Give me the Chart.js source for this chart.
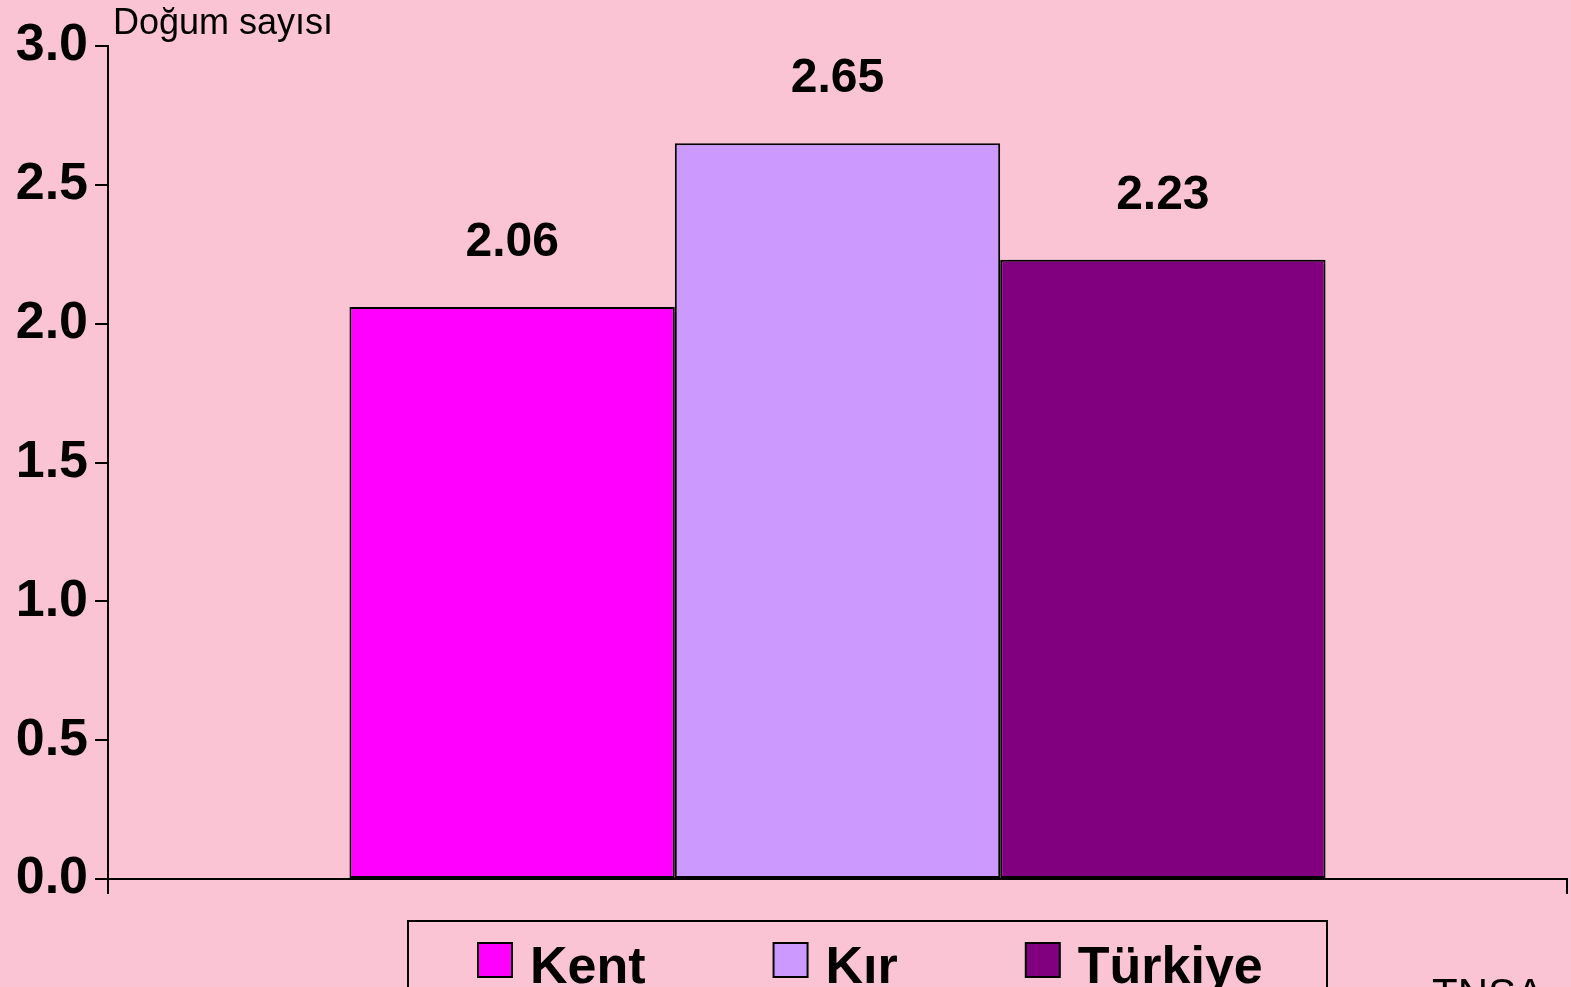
<!DOCTYPE html>
<html>
<head>
<meta charset="utf-8">
<title>Doğum sayısı</title>
<script src="https://cdn.jsdelivr.net/npm/chart.js@4/dist/chart.umd.min.js"></script>
<style>
  html, body { margin: 0; padding: 0; overflow: hidden; }
  body { background: #fac4d4; width: 1571px; height: 987px; }
  canvas { display: block; }
</style>
</head>
<body>
<canvas id="graph-canvas" width="1571" height="987"></canvas>
<script>
// veriler
var categories = [''];
var seriesNames = ['Kent', 'Kır', 'Türkiye'];
var seriesValues = [2.06, 2.65, 2.23];
var seriesColors = ['#ff00ff', '#cc99ff', '#800080'];
var yMin = 0, yMax = 3, yStep = 0.5;
var axisTitle = 'Doğum sayısı';
var sourceText = 'TNSA';

var FONT = 'Arial, "Liberation Sans", sans-serif';

var datasets = [];
for (var i in seriesNames) {
	datasets.push({
		label: seriesNames[i],
		data: [seriesValues[i]],
		backgroundColor: seriesColors[i],
		borderColor: '#000',
		borderWidth: 2,
		borderSkipped: false,
		barPercentage: 1.0,
		categoryPercentage: 0.669
	});
}

// degerleri cubuklarin ustune yaz
var valueLabels = {
	id: 'valueLabels',
	afterDatasetsDraw: function(chart) {
		var ctx = chart.ctx;
		ctx.save();
		ctx.fillStyle = '#000';
		ctx.font = 'bold 48px ' + FONT;
		ctx.textAlign = 'center';
		ctx.textBaseline = 'middle';
		chart.data.datasets.forEach(function(ds, i) {
			var bar = chart.getDatasetMeta(i).data[0];
			ctx.fillText(ds.data[0].toFixed(2), bar.x, bar.y - 64);
		});
		ctx.restore();
	}
};

// eksen basligi, kaynak ve kutulu lejant
var extras = {
	id: 'extras',
	afterDraw: function(chart) {
		var ctx = chart.ctx;
		ctx.save();
		ctx.fillStyle = '#000';
		ctx.textAlign = 'left';
		ctx.textBaseline = 'alphabetic';
		ctx.font = '36px ' + FONT;
		ctx.fillText(axisTitle, 113, 34);

		ctx.font = '42px ' + FONT;
		ctx.fillText(sourceText, 1432, 1008);

		// lejant kutusu
		ctx.strokeStyle = '#000';
		ctx.lineWidth = 2;
		ctx.strokeRect(408, 921, 919, 80);

		ctx.font = 'bold 52px ' + FONT;
		var x = 478;
		chart.data.datasets.forEach(function(ds) {
			ctx.fillStyle = ds.backgroundColor;
			ctx.fillRect(x, 943, 34, 34);
			ctx.strokeRect(x, 943, 34, 34);
			ctx.fillStyle = '#000';
			ctx.fillText(ds.label, x + 52, 983);
			x += 52 + ctx.measureText(ds.label).width + 128;
		});
		ctx.restore();
	}
};

var ctx = document.getElementById('graph-canvas');
var barGraph = new Chart(ctx, {
	type: 'bar',
	data: {
		labels: categories,
		datasets: datasets
	},
	options: {
		responsive: false,
		devicePixelRatio: 1,
		animation: false,
		layout: { padding: { top: 46, right: 4, left: 0, bottom: 0 } },
		plugins: {
			legend: { display: false },
			tooltip: { enabled: false }
		},
		scales: {
			x: {
				afterFit: function(scale) { scale.height = 108; },
				ticks: { display: false },
				grid: {
					offset: true,
					drawOnChartArea: false,
					drawTicks: true,
					tickLength: 15,
					color: '#000',
					lineWidth: 2
				},
				border: { display: true, color: '#000', width: 2 }
			},
			y: {
				min: yMin,
				max: yMax,
				afterFit: function(scale) { scale.width = 108; },
				ticks: {
					stepSize: yStep,
					color: '#000',
					padding: 7,
					font: { family: FONT, size: 52, weight: 'bold' },
					callback: function(v) { return v.toFixed(1); }
				},
				grid: {
					drawOnChartArea: false,
					drawTicks: true,
					tickLength: 13,
					color: '#000',
					lineWidth: 2
				},
				border: { display: true, color: '#000', width: 2 }
			}
		}
	},
	plugins: [valueLabels, extras]
});
</script>
</body>
</html>
